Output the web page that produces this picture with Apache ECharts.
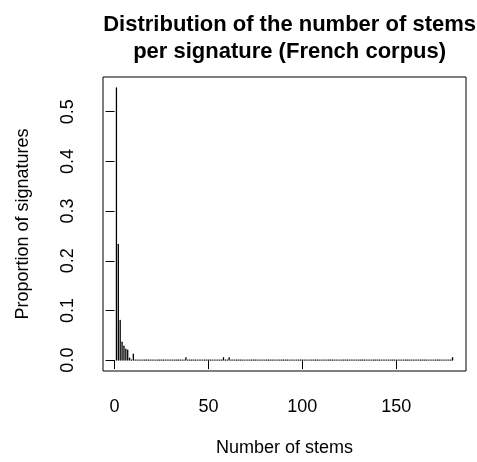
<!DOCTYPE html>
<html>
<head>
<meta charset="utf-8">
<script src="https://cdn.jsdelivr.net/npm/echarts@6/dist/echarts.min.js"></script>
<style>
  html, body { margin: 0; padding: 0; background: #fff; }
  #chart { width: 477px; height: 462px; }
</style>
</head>
<body>
<div id="chart"></div>
<script>
// number of stems per signature: 1..180
var stems = [];
for (var i = 1; i <= 180; i++) stems.push(i);

// proportion of signatures for each number of stems
var proportions = [
  0.548, 0.233, 0.080, 0.036, 0.028, 0.022, 0.020, 0.004, 0, 0.012,
  0, 0, 0, 0, 0, 0, 0, 0, 0, 0,
  0, 0, 0, 0, 0, 0, 0, 0, 0, 0,
  0, 0, 0, 0, 0, 0, 0, 0.005, 0, 0,
  0, 0, 0, 0, 0, 0, 0, 0, 0, 0,
  0, 0, 0, 0, 0, 0, 0, 0.005, 0, 0,
  0.005, 0, 0, 0, 0, 0, 0, 0, 0, 0,
  0, 0, 0, 0, 0, 0, 0, 0, 0, 0,
  0, 0, 0, 0, 0, 0, 0, 0, 0, 0,
  0, 0, 0, 0, 0, 0, 0, 0, 0, 0,
  0, 0, 0, 0, 0, 0, 0, 0, 0, 0,
  0, 0, 0, 0, 0, 0, 0, 0, 0, 0,
  0, 0, 0, 0, 0, 0, 0, 0, 0, 0,
  0, 0, 0, 0, 0, 0, 0, 0, 0, 0,
  0, 0, 0, 0, 0, 0, 0, 0, 0, 0,
  0, 0, 0, 0, 0, 0, 0, 0, 0, 0,
  0, 0, 0, 0, 0, 0, 0, 0, 0, 0,
  0, 0, 0, 0, 0, 0, 0, 0, 0, 0.005
];

var xTicks = [0, 50, 100, 150];
var yTicks = [0, 0.1, 0.2, 0.3, 0.4, 0.5];

var font = 'Liberation Sans, Arial, Helvetica, sans-serif';

var points = [];
for (var k = 0; k < stems.length; k++) points.push([stems[k], proportions[k]]);

// R style type="h" : vertical line from 0, zero values show as a dot
function renderItem(params, api) {
    var x = api.value(0), y = api.value(1);
    var p0 = api.coord([x, 0]);
    var p1 = api.coord([x, y]);
    if (y === 0) {
        return {
            type: 'rect',
            shape: { x: p0[0] - 0.7, y: p0[1] - 0.7, width: 1.4, height: 1.4 },
            style: { fill: '#333' }
        };
    }
    return {
        type: 'line',
        shape: { x1: p0[0], y1: p0[1], x2: p1[0], y2: p1[1] },
        style: { stroke: '#000', lineWidth: 1.3, lineCap: 'round' }
    };
}

var chart = echarts.init(document.getElementById('chart'));
chart.setOption({
    animation: false,
    title: {
        text: 'Distribution of the number of stems\nper signature (French corpus)',
        left: 284.6,
        top: 7,
        textAlign: 'center',
        textStyle: { fontFamily: font, fontSize: 22, fontWeight: 'bold', color: '#000', lineHeight: 26.5 }
    },
    grid: {
        left: 103, right: 11, top: 77, bottom: 90.5,
        show: true, borderColor: '#000', borderWidth: 1, backgroundColor: 'transparent'
    },
    xAxis: {
        type: 'value',
        min: -6.16,
        max: 187.16,
        name: 'Number of stems',
        nameLocation: 'middle',
        nameGap: 68,
        nameTextStyle: { fontFamily: font, fontSize: 18, color: '#000' },
        axisLine: { show: false },
        splitLine: { show: false },
        axisTick: { show: true, customValues: xTicks, length: 9, lineStyle: { color: '#000', width: 1 } },
        axisLabel: { customValues: xTicks, margin: 27, fontFamily: font, fontSize: 18, color: '#000' }
    },
    yAxis: {
        type: 'value',
        min: -0.0219,
        max: 0.5699,
        name: 'Proportion of signatures',
        nameLocation: 'middle',
        nameGap: 71,
        nameTextStyle: { fontFamily: font, fontSize: 18, color: '#000' },
        axisLine: { show: false },
        splitLine: { show: false },
        axisTick: { show: true, customValues: yTicks, length: 9, lineStyle: { color: '#000', width: 1 } },
        axisLabel: {
            customValues: yTicks, rotate: 90, margin: 26,
            fontFamily: font, fontSize: 18, color: '#000',
            formatter: function (v) { return v.toFixed(1); }
        }
    },
    series: [{
        type: 'custom',
        renderItem: renderItem,
        data: points
    }]
});
</script>
</body>
</html>
